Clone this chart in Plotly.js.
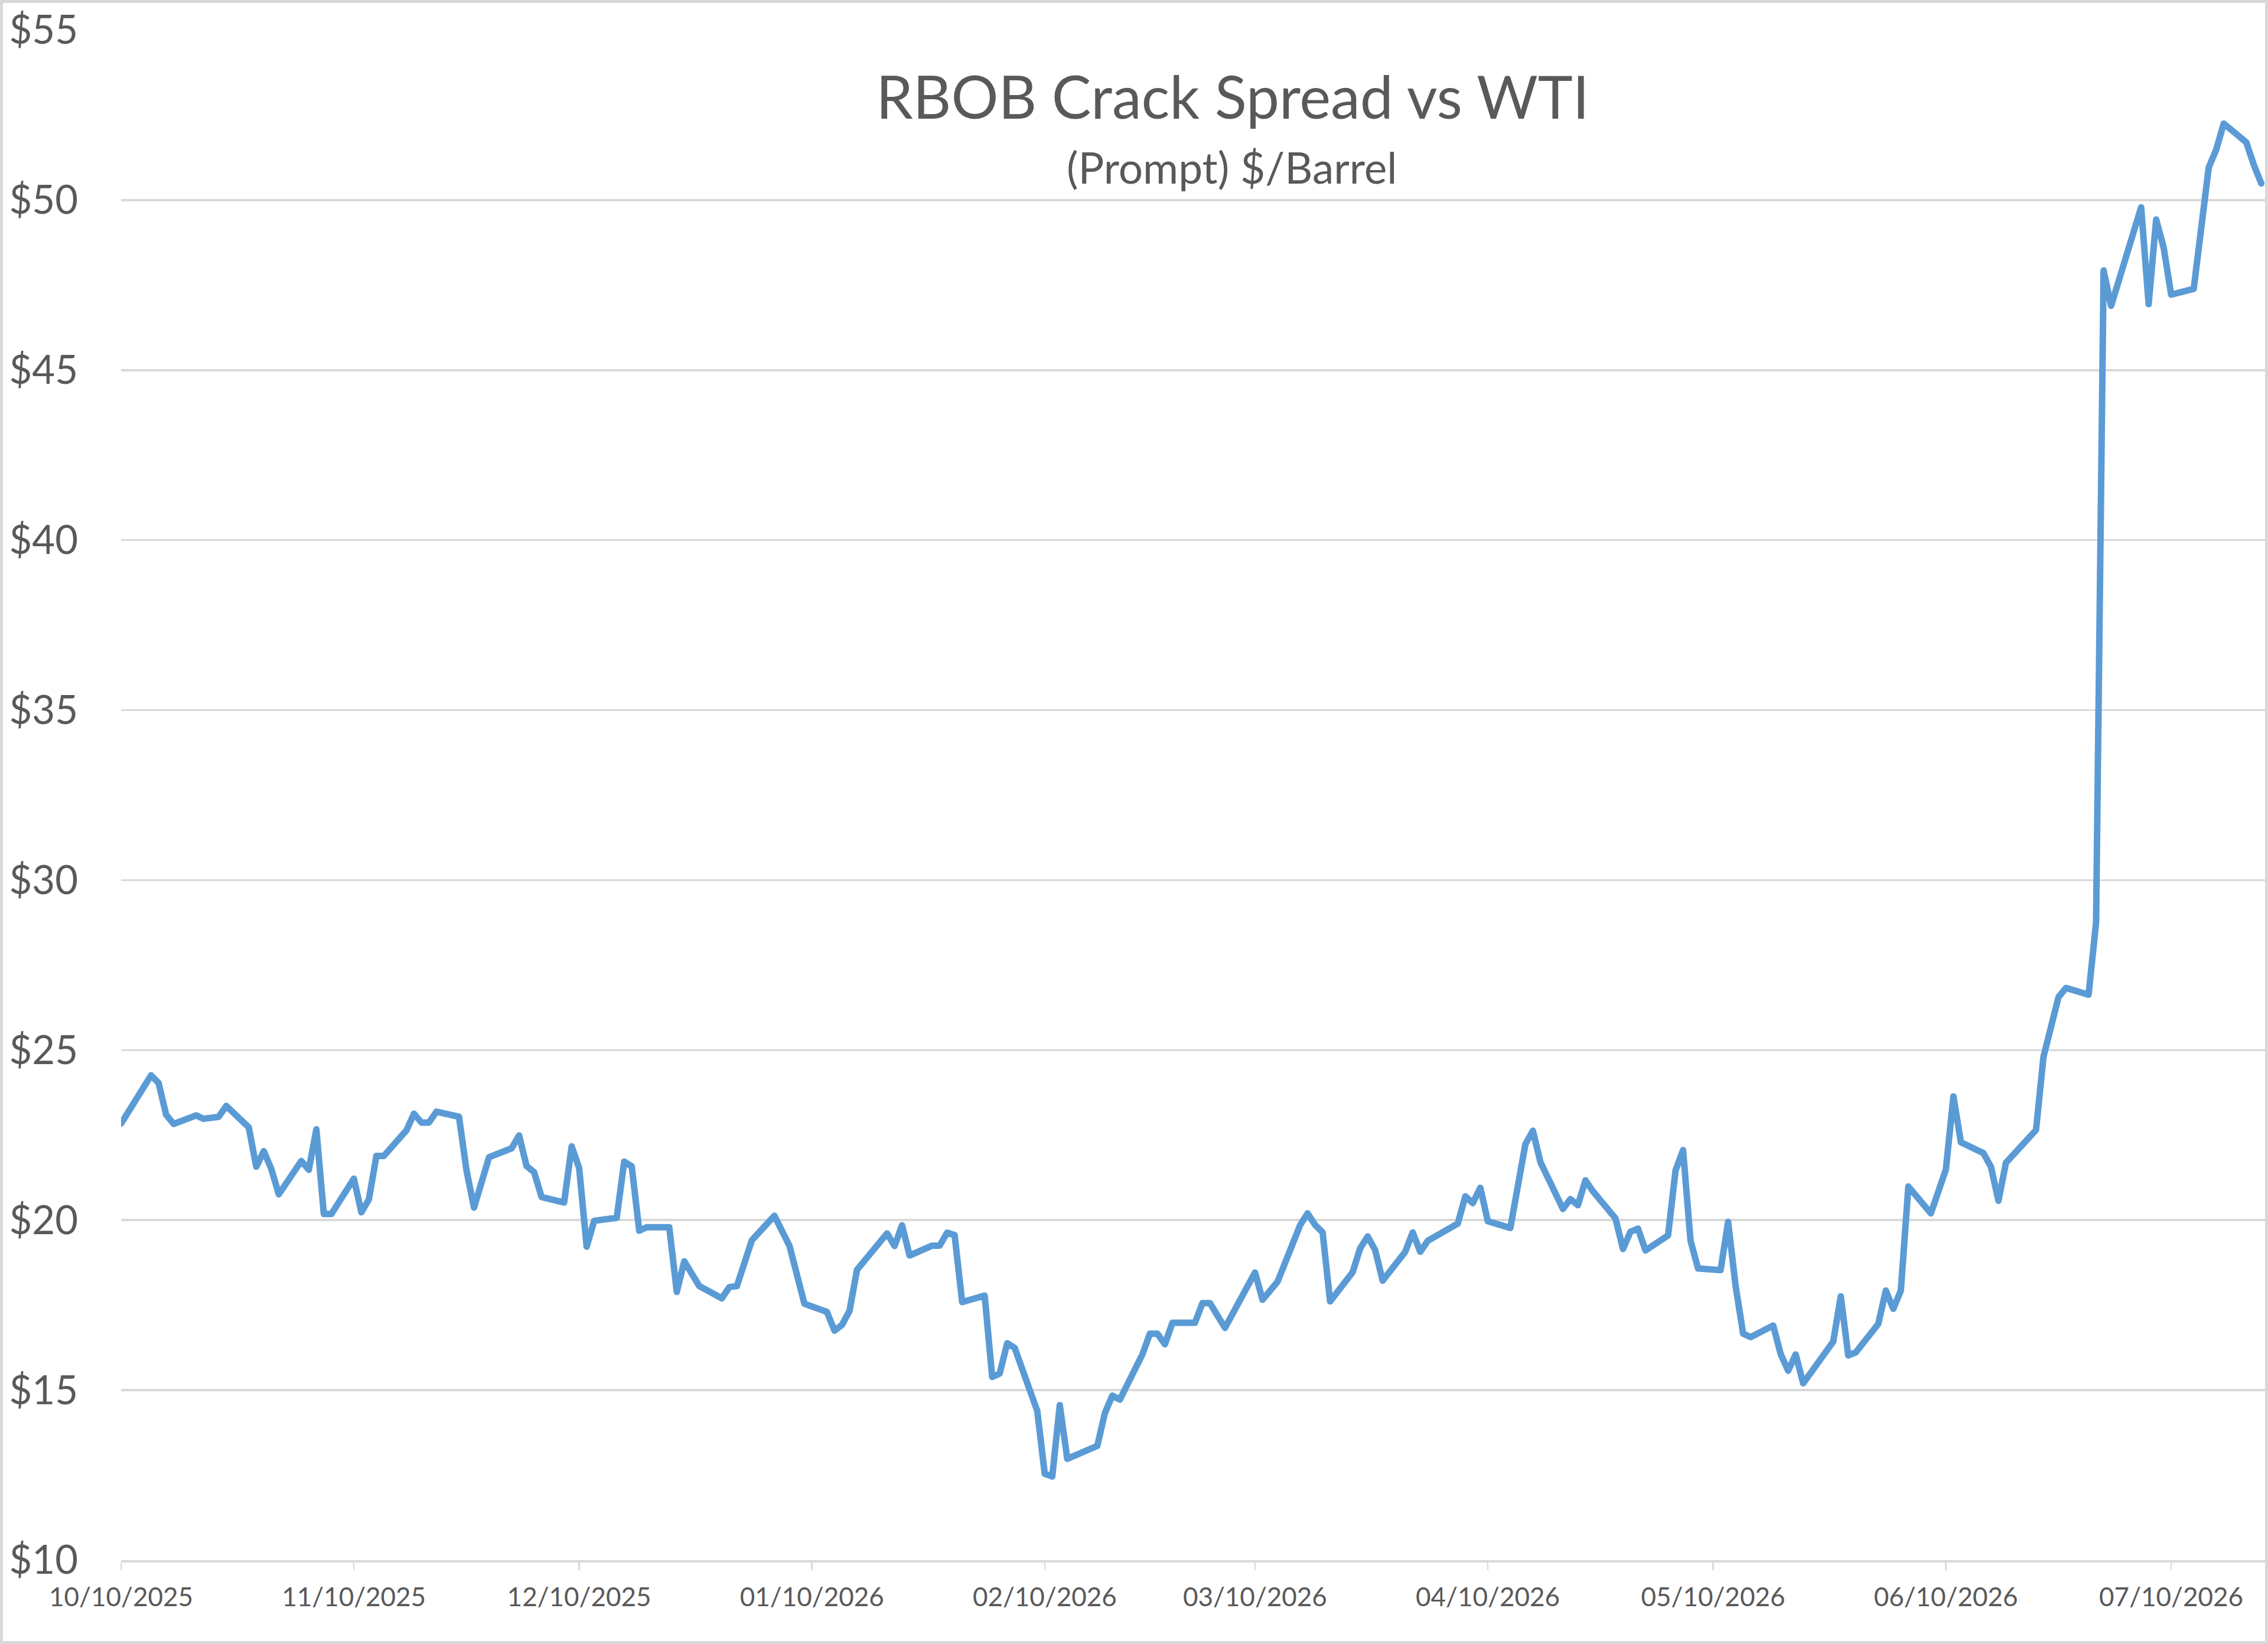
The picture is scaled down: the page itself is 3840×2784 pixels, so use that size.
<!DOCTYPE html>
<html>
<head>
<meta charset="utf-8">
<script src="https://cdn.plot.ly/plotly-3.0.1.min.js"></script>
<style>
  html, body { margin: 0; padding: 0; background: #ffffff; }
  #wrap { position: relative; width: 3840px; height: 2784px; }
  #chart { position: absolute; left: 0; top: 0; width: 3840px; height: 2784px; }
  #frame { position: absolute; left: 0; top: 0; width: 3840px; height: 2784px;
           box-sizing: border-box; border: 5px solid #D9D9D9; pointer-events: none; }
</style>
</head>
<body>
<div id="wrap">
  <div id="chart"></div>
  <div id="frame"></div>
</div>
<script>
// ---- Data ----
const dates = [
  '2025-10-10','2025-10-14','2025-10-15','2025-10-16','2025-10-17','2025-10-20','2025-10-21','2025-10-23','2025-10-24',
  '2025-10-27','2025-10-28','2025-10-29','2025-10-30','2025-10-31','2025-11-03','2025-11-04','2025-11-05','2025-11-06',
  '2025-11-07','2025-11-10','2025-11-11','2025-11-12','2025-11-13','2025-11-14','2025-11-17','2025-11-18','2025-11-19',
  '2025-11-20','2025-11-21','2025-11-24','2025-11-25','2025-11-26','2025-11-28','2025-12-01','2025-12-02','2025-12-03',
  '2025-12-04','2025-12-05','2025-12-08','2025-12-09','2025-12-10','2025-12-11','2025-12-12','2025-12-15','2025-12-16',
  '2025-12-17','2025-12-18','2025-12-19','2025-12-22','2025-12-23','2025-12-24','2025-12-26','2025-12-29','2025-12-30',
  '2025-12-31','2026-01-02','2026-01-05','2026-01-07','2026-01-09','2026-01-12','2026-01-13','2026-01-14','2026-01-15',
  '2026-01-16','2026-01-20','2026-01-21','2026-01-22','2026-01-23','2026-01-26','2026-01-27','2026-01-28','2026-01-29',
  '2026-01-30','2026-02-02','2026-02-03','2026-02-04','2026-02-05','2026-02-06','2026-02-09','2026-02-10','2026-02-11',
  '2026-02-12','2026-02-13','2026-02-17','2026-02-18','2026-02-19','2026-02-20','2026-02-23','2026-02-24','2026-02-25',
  '2026-02-26','2026-02-27','2026-03-02','2026-03-03','2026-03-04','2026-03-06','2026-03-10','2026-03-11','2026-03-13',
  '2026-03-16','2026-03-17','2026-03-18','2026-03-19','2026-03-20','2026-03-23','2026-03-24','2026-03-25','2026-03-26',
  '2026-03-27','2026-03-30','2026-03-31','2026-04-01','2026-04-02','2026-04-06','2026-04-07','2026-04-08','2026-04-09',
  '2026-04-10','2026-04-13','2026-04-15','2026-04-16','2026-04-17','2026-04-20','2026-04-21','2026-04-22','2026-04-23',
  '2026-04-24','2026-04-27','2026-04-28','2026-04-29','2026-04-30','2026-05-01','2026-05-04','2026-05-05','2026-05-06',
  '2026-05-07','2026-05-08','2026-05-11','2026-05-12','2026-05-13','2026-05-14','2026-05-15','2026-05-18','2026-05-19',
  '2026-05-20','2026-05-21','2026-05-22','2026-05-26','2026-05-27','2026-05-28','2026-05-29','2026-06-01','2026-06-02',
  '2026-06-03','2026-06-04','2026-06-05','2026-06-08','2026-06-10','2026-06-11','2026-06-12','2026-06-15','2026-06-16',
  '2026-06-17','2026-06-18','2026-06-22','2026-06-23','2026-06-25','2026-06-26','2026-06-29','2026-06-30','2026-07-01',
  '2026-07-02','2026-07-06','2026-07-07','2026-07-08','2026-07-09','2026-07-10','2026-07-13','2026-07-15','2026-07-16',
  '2026-07-17','2026-07-20','2026-07-21','2026-07-22'
];
const spread = [
  22.84,24.26,24.03,23.10,22.83,23.08,22.98,23.04,23.36,
  22.73,21.57,22.03,21.51,20.76,21.74,21.48,22.67,20.18,
  20.18,21.22,20.23,20.61,21.89,21.89,22.64,23.13,22.87,
  22.87,23.19,23.04,21.46,20.37,21.85,22.11,22.49,21.59,
  21.41,20.68,20.52,22.17,21.53,19.22,19.98,20.07,21.72,
  21.58,19.69,19.79,19.79,17.89,18.79,18.06,17.70,18.03,
  18.06,19.41,20.13,19.25,17.54,17.30,16.75,16.92,17.33,
  18.54,19.61,19.24,19.85,18.96,19.25,19.25,19.63,19.56,
  17.59,17.78,15.39,15.49,16.38,16.24,14.39,12.54,12.46,
  14.56,12.98,13.36,14.32,14.84,14.72,16.05,16.66,16.66,
  16.35,16.98,16.98,17.56,17.56,16.83,18.46,17.66,18.19,
  19.85,20.20,19.86,19.64,17.61,18.47,19.17,19.52,19.12,
  18.22,19.07,19.64,19.07,19.39,19.90,20.70,20.50,20.95,
  19.97,19.77,22.23,22.63,21.71,20.33,20.62,20.44,21.17,
  20.85,20.05,19.15,19.66,19.75,19.11,19.55,21.46,22.06,
  19.39,18.58,18.53,19.95,18.06,16.66,16.56,16.90,16.06,
  15.57,16.05,15.20,16.43,17.76,16.02,16.11,16.95,17.93,
  17.39,17.93,20.99,20.20,21.49,23.64,22.29,21.97,21.57,
  20.57,21.69,22.65,24.81,26.56,26.83,26.63,28.75,47.93,
  46.89,49.79,46.94,49.43,48.60,47.22,47.39,50.96,51.49,
  52.25,51.70,51.04,50.49
];
const xTickDates = ['2025-10-10','2025-11-10','2025-12-10','2026-01-10','2026-02-10',
                    '2026-03-10','2026-04-10','2026-05-10','2026-06-10','2026-07-10'];
const yTickValues = [10, 15, 20, 25, 30, 35, 40, 45, 50, 55];
const yTickLabels = ['$10', '$15', '$20', '$25', '$30', '$35', '$40', '$45', '$50', '$55'];
const chartTitle = 'RBOB Crack Spread vs WTI';
const chartSubtitle = '(Prompt) $/Barrel';

// ---- Styling ----
const textColor = '#595959';
const gridColor = '#D9D9D9';
const fontFamily = 'Lato, "Open Sans", sans-serif';

const trace = {
  type: 'scatter',
  mode: 'lines',
  x: dates,
  y: spread,
  line: { color: '#5B9BD5', width: 11, shape: 'linear' },
  hoverinfo: 'skip',
  showlegend: false
};

const layout = {
  width: 3840,
  height: 2784,
  paper_bgcolor: '#ffffff',
  plot_bgcolor: '#ffffff',
  margin: { l: 205, r: 5, t: 51, b: 142, pad: 0 },
  font: { family: fontFamily, color: textColor },
  title: {
    text: chartTitle,
    font: { family: fontFamily, size: 100, color: textColor },
    xref: 'container', x: 2087 / 3840, xanchor: 'center',
    yref: 'container', y: 1 - 166 / 2784, yanchor: 'middle'
  },
  annotations: [{
    text: chartSubtitle,
    font: { family: fontFamily, size: 73, color: textColor },
    xref: 'paper', x: (2086 - 205) / 3630, xanchor: 'center',
    yref: 'paper', y: (2642 - 283) / 2591, yanchor: 'middle',
    showarrow: false
  }],
  xaxis: {
    type: 'date',
    range: ['2025-10-10', '2026-07-22 12:00'],
    tickvals: xTickDates,
    tickformat: '%m/%d/%Y',
    tickfont: { family: fontFamily, size: 44, color: textColor },
    ticks: 'outside',
    ticklen: 13,
    tickwidth: 2.5,
    tickcolor: gridColor,
    ticklabelstandoff: 8,
    showgrid: false,
    zeroline: false,
    showline: true,
    linecolor: gridColor,
    linewidth: 4
  },
  yaxis: {
    range: [10, 55],
    tickvals: yTickValues,
    ticktext: yTickLabels,
    tickfont: { family: fontFamily, size: 67, color: textColor },
    ticks: '',
    ticklabelstandoff: 72,
    showgrid: true,
    gridcolor: gridColor,
    gridwidth: 3.5,
    zeroline: false,
    showline: false
  }
};

Plotly.newPlot('chart', [trace], layout, { staticPlot: true, displayModeBar: false }).then(function () {
  document.querySelectorAll('.scatterlayer path.js-line').forEach(function (p) {
    p.style.strokeLinejoin = 'round';
    p.style.strokeLinecap = 'round';
  });
});
</script>
</body>
</html>
